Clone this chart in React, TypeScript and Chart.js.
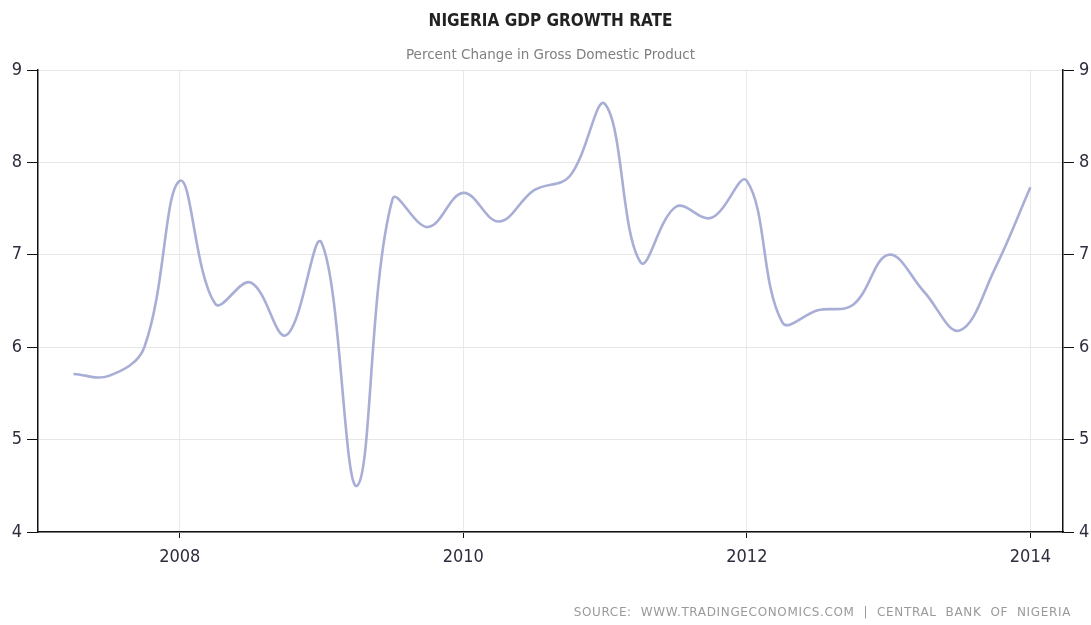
import React, { useEffect, useRef } from "react";
import { Chart, registerables } from "chart.js";

Chart.register(...registerables);

const quarters = [
  2007.25, 2007.5, 2007.75, 2008.0, 2008.25, 2008.5, 2008.75, 2009.0, 2009.25, 2009.5,
  2009.75, 2010.0, 2010.25, 2010.5, 2010.75, 2011.0, 2011.25, 2011.5, 2011.75, 2012.0,
  2012.25, 2012.5, 2012.75, 2013.0, 2013.25, 2013.5, 2013.75, 2014.0,
];
const gdpGrowth = [
  5.71, 5.69, 6.0, 7.8, 6.47, 6.7, 6.13, 7.13, 4.5, 7.6,
  7.3, 7.67, 7.36, 7.7, 7.85, 8.63, 6.92, 7.52, 7.4, 7.8,
  6.27, 6.4, 6.46, 7.0, 6.6, 6.18, 6.85, 7.73,
];
const xTickYears = [2008, 2010, 2012, 2014];
const yMin = 4;
const yMax = 9;
const titleText = "NIGERIA GDP GROWTH RATE";
const subtitleText = "Percent Change in Gross Domestic Product";
const sourceText = "SOURCE:  WWW.TRADINGECONOMICS.COM  |  CENTRAL  BANK  OF  NIGERIA";

const tickFont = { family: '"DejaVu Sans Condensed", "DejaVu Sans", sans-serif', size: 18, weight: "normal" as const };

const textPlugin = {
  id: "textPlugin",
  afterDraw(chart: any) {
    const ctx = chart.ctx;
    const area = chart.chartArea;
    const cx = (area.left + area.right) / 2;
    ctx.save();
    ctx.textAlign = "center";
    ctx.textBaseline = "middle";
    ctx.fillStyle = "#222";
    ctx.font = 'bold 17px "DejaVu Sans Condensed", "DejaVu Sans", sans-serif';
    ctx.fillText(titleText, cx, 22);
    ctx.fillStyle = "#808080";
    ctx.font = '13.5px "DejaVu Sans", sans-serif';
    ctx.fillText(subtitleText, cx, 55);
    ctx.textAlign = "right";
    ctx.fillStyle = "#9a9a9a";
    ctx.font = '12px "DejaVu Sans", sans-serif';
    try { (ctx as any).letterSpacing = "0.65px"; } catch (e) {}
    ctx.fillText(sourceText, 1071, 613);
    ctx.restore();
  },
};

export default function App() {
  const ref = useRef<HTMLCanvasElement | null>(null);
  useEffect(() => {
    document.body.style.margin = "0";
    const canvas = ref.current!;
    const chart = new Chart(canvas, {
      type: "line",
      data: {
        datasets: [
          {
            label: "GDP Growth",
            data: quarters.map((q, i) => ({ x: q, y: gdpGrowth[i] })),
            borderColor: "#a8aed6",
            borderWidth: 2.6,
            pointRadius: 0,
            tension: 0.38,
            fill: false,
          },
        ],
      },
      options: {
        responsive: false,
        animation: false,
        layout: { padding: { top: 70, left: 0, right: 0, bottom: 0 } },
        plugins: {
          legend: { display: false },
          title: { display: false },
          tooltip: { enabled: false },
        },
        scales: {
          x: {
            type: "linear",
            min: 2007,
            max: 2014.23,
            afterBuildTicks: (scale: any) => {
              scale.ticks = xTickYears.map((v) => ({ value: v }));
            },
            afterFit: (scale: any) => {
              scale.height = 93;
            },
            grid: { color: "#e9e9e9", tickColor: "#111", tickLength: 6, lineWidth: 1 },
            border: { color: "#111", width: 1.5 },
            ticks: {
              callback: (v: any) => String(v),
              color: "#2d2d3d",
              font: tickFont,
              padding: 9,
              maxRotation: 0,
            },
          },
          y: {
            position: "left",
            min: yMin,
            max: yMax,
            afterFit: (scale: any) => {
              scale.width = 38;
            },
            grid: { color: "#e6e6e6", tickColor: "#111", tickLength: 11, lineWidth: 1 },
            border: { color: "#111", width: 1.5 },
            ticks: { stepSize: 1, color: "#2d2d3d", font: tickFont, padding: 5 },
          },
          y2: {
            position: "right",
            min: yMin,
            max: yMax,
            afterFit: (scale: any) => {
              scale.width = 28;
            },
            grid: { drawOnChartArea: false, tickColor: "#111", tickLength: 11, lineWidth: 1 },
            border: { color: "#111", width: 1.5 },
            ticks: { stepSize: 1, color: "#2d2d3d", font: tickFont, padding: 5 },
          },
        },
      },
      plugins: [textPlugin],
    });
    return () => chart.destroy();
  }, []);
  return (
    <div style={{ width: 1091, height: 625, background: "#fff" }}>
      <canvas ref={ref} width={1091} height={625} style={{ display: "block" }} />
    </div>
  );
}
